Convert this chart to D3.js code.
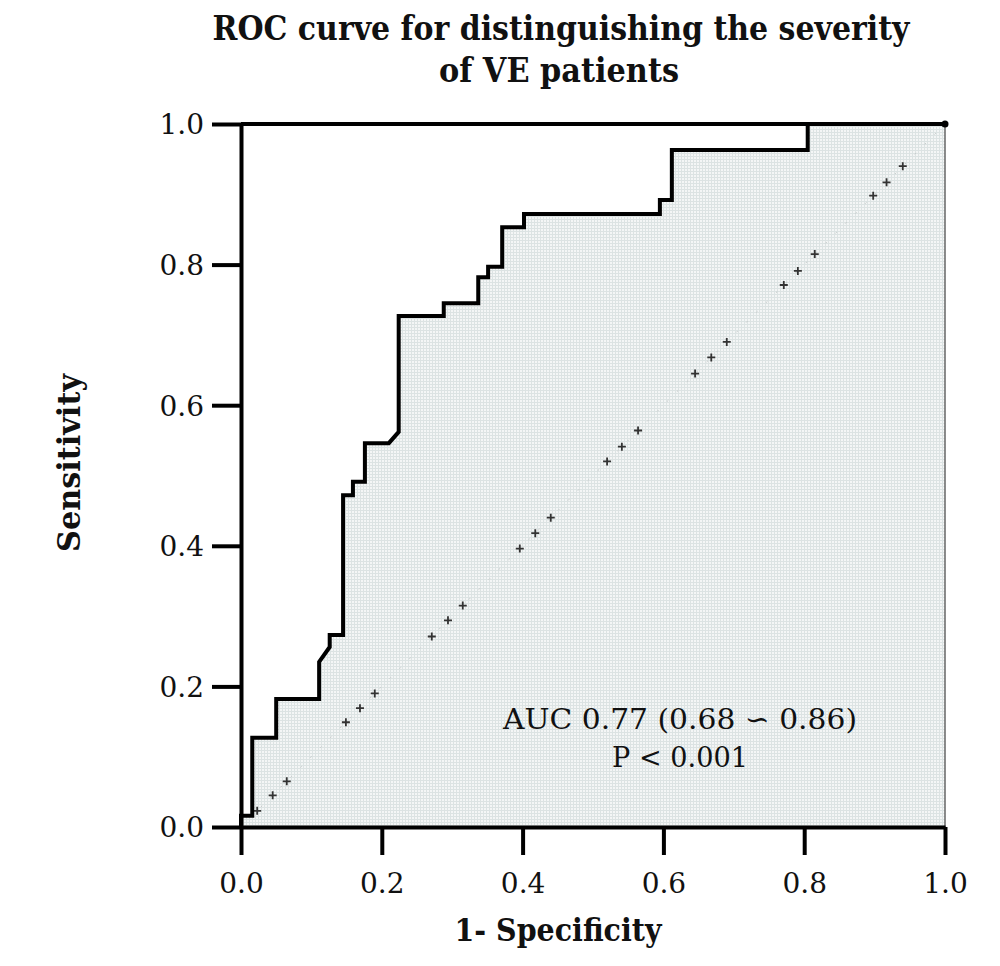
<!DOCTYPE html>
<html lang="en">
<head>
<meta charset="utf-8">
<title>ROC curve</title>
<script src="https://d3js.org/d3.v7.min.js"></script>
<style>
  body { margin: 0; background: #fff; }
  text { font-family: "DejaVu Serif", serif; fill: #111; }
</style>
</head>
<body>
<script>
// ROC curve points (1-specificity, sensitivity)
var fpr = [0, 0, 0.016, 0.016, 0.050, 0.050, 0.111, 0.111, 0.126, 0.126, 0.145, 0.145,
           0.159, 0.159, 0.176, 0.176, 0.210, 0.224, 0.224, 0.288, 0.288, 0.337, 0.337,
           0.351, 0.351, 0.371, 0.371, 0.402, 0.402, 0.595, 0.595, 0.612, 0.612, 0.805, 0.805, 1]
var tpr = [0, 0.016, 0.016, 0.127, 0.127, 0.182, 0.182, 0.235, 0.256, 0.273, 0.273, 0.472,
           0.472, 0.491, 0.491, 0.546, 0.546, 0.562, 0.727, 0.727, 0.745, 0.745, 0.782,
           0.782, 0.797, 0.797, 0.853, 0.853, 0.872, 0.872, 0.892, 0.892, 0.963, 0.963, 1, 1]

// little cross marks on the chance diagonal
var crossPos = [0.023, 0.045, 0.065, 0.149, 0.169, 0.190, 0.271, 0.294, 0.315,
                0.396, 0.418, 0.440, 0.520, 0.541, 0.564, 0.645, 0.668, 0.690,
                0.771, 0.791, 0.815, 0.898, 0.917, 0.940]

var ticks = [0, 0.2, 0.4, 0.6, 0.8, 1.0]
var titleLines = ["ROC curve for distinguishing the severity", "of  VE patients"]
var aucLines = ["AUC 0.77 (0.68  \u223D 0.86)", "P < 0.001"]

var w = 1000
var h = 966

var x = d3.scaleLinear().domain([0, 1]).range([241, 945])
var y = d3.scaleLinear().domain([0, 1]).range([827, 124])

var svg = d3.select("body").append("svg")
  .attr("width", w)
  .attr("height", h)

// fine grid pattern for the area under the curve
var defs = svg.append("defs")
var pat = defs.append("pattern")
  .attr("id", "grid")
  .attr("width", 3)
  .attr("height", 3)
  .attr("patternUnits", "userSpaceOnUse")
pat.append("rect").attr("width", 3).attr("height", 3).attr("fill", "#f4f6f6")
pat.append("path").attr("d", "M0,0.5H3M0.5,0V3")
  .attr("stroke", "#dce3e3").attr("stroke-width", 1)

var pts = fpr.map(function(d, i){ return [d, tpr[i]] })

var area = d3.area()
  .x(function(d){ return x(d[0]) })
  .y0(y(0))
  .y1(function(d){ return y(d[1]) })

svg.append("path")
  .datum(pts)
  .attr("d", area)
  .attr("fill", "url(#grid)")

// chance diagonal
svg.append("line")
  .attr("x1", x(0)).attr("y1", y(0))
  .attr("x2", x(1)).attr("y2", y(1))
  .attr("stroke", "#c8cccc")
  .attr("stroke-width", 1)
  .attr("stroke-dasharray", "2,12")

var cross = svg.append("g").selectAll("g")
  .data(crossPos)
  .enter()
  .append("g")
  .attr("transform", function(d){ return "translate(" + x(d) + "," + y(d) + ")" })
cross.append("path")
  .attr("d", "M-4,0H4M0,-4V4")
  .attr("stroke", "#333")
  .attr("stroke-width", 1.8)

// right border (thin)
svg.append("line")
  .attr("x1", x(1)).attr("y1", y(1))
  .attr("x2", x(1)).attr("y2", y(0))
  .attr("stroke", "#666")
  .attr("stroke-width", 1.5)

// top border (thick)
svg.append("line")
  .attr("x1", x(0)).attr("y1", y(1))
  .attr("x2", x(1)).attr("y2", y(1))
  .attr("stroke", "#000")
  .attr("stroke-width", 4)

svg.append("circle")
  .attr("cx", x(1)).attr("cy", y(1)).attr("r", 3.5)
  .attr("fill", "#000")

// ROC curve
var line = d3.line()
  .x(function(d){ return x(d[0]) })
  .y(function(d){ return y(d[1]) })

svg.append("path")
  .datum(pts)
  .attr("d", line)
  .attr("fill", "none")
  .attr("stroke", "#000")
  .attr("stroke-width", 4)
  .attr("stroke-linejoin", "miter")

// axes
var fmt = d3.format(".1f")
var xAxis = svg.append("g")
  .attr("transform", "translate(0," + y(0) + ")")
  .call(d3.axisBottom(x).tickValues(ticks).tickFormat(fmt).tickSize(28).tickSizeOuter(0).tickPadding(18))
var yAxis = svg.append("g")
  .attr("transform", "translate(" + x(0) + ",0)")
  .call(d3.axisLeft(y).tickValues(ticks).tickFormat(fmt).tickSize(29).tickSizeOuter(0).tickPadding(8))

svg.selectAll(".domain").attr("stroke", "#000").attr("stroke-width", 4)
svg.selectAll(".tick line").attr("stroke", "#000").attr("stroke-width", 4)
svg.selectAll(".tick text")
  .attr("font-family", "DejaVu Serif, serif")
  .attr("font-size", 28)
  .attr("fill", "#111")
yAxis.selectAll(".tick text").attr("dy", "0.35em")

// title
svg.selectAll(".title")
  .data(titleLines)
  .enter()
  .append("text")
  .attr("class", "title")
  .attr("x", function(d, i){ return i == 0 ? 561 : 559 })
  .attr("y", function(d, i){ return 40 + i * 42 })
  .attr("text-anchor", "middle")
  .attr("font-size", 33)
  .attr("font-weight", "bold")
  .attr("textLength", function(d, i){ return i == 0 ? 697 : 240 })
  .attr("lengthAdjust", "spacingAndGlyphs")
  .text(function(d){ return d })

// axis titles
svg.append("text")
  .attr("x", 558)
  .attr("y", 941)
  .attr("text-anchor", "middle")
  .attr("font-size", 31)
  .attr("font-weight", "bold")
  .attr("textLength", 207)
  .attr("lengthAdjust", "spacingAndGlyphs")
  .text("1- Specificity")

svg.append("text")
  .attr("transform", "translate(80,463) rotate(-90)")
  .attr("text-anchor", "middle")
  .attr("font-size", 31)
  .attr("font-weight", "bold")
  .attr("textLength", 178)
  .attr("lengthAdjust", "spacingAndGlyphs")
  .text("Sensitivity")

// AUC annotation
svg.selectAll(".auc")
  .data(aucLines)
  .enter()
  .append("text")
  .attr("class", "auc")
  .attr("x", 680)
  .attr("y", function(d, i){ return 729 + i * 38 })
  .attr("text-anchor", "middle")
  .attr("font-size", 28)
  .attr("textLength", function(d, i){ return i == 0 ? 354 : 136 })
  .attr("lengthAdjust", "spacingAndGlyphs")
  .text(function(d){ return d })
</script>
</body>
</html>
